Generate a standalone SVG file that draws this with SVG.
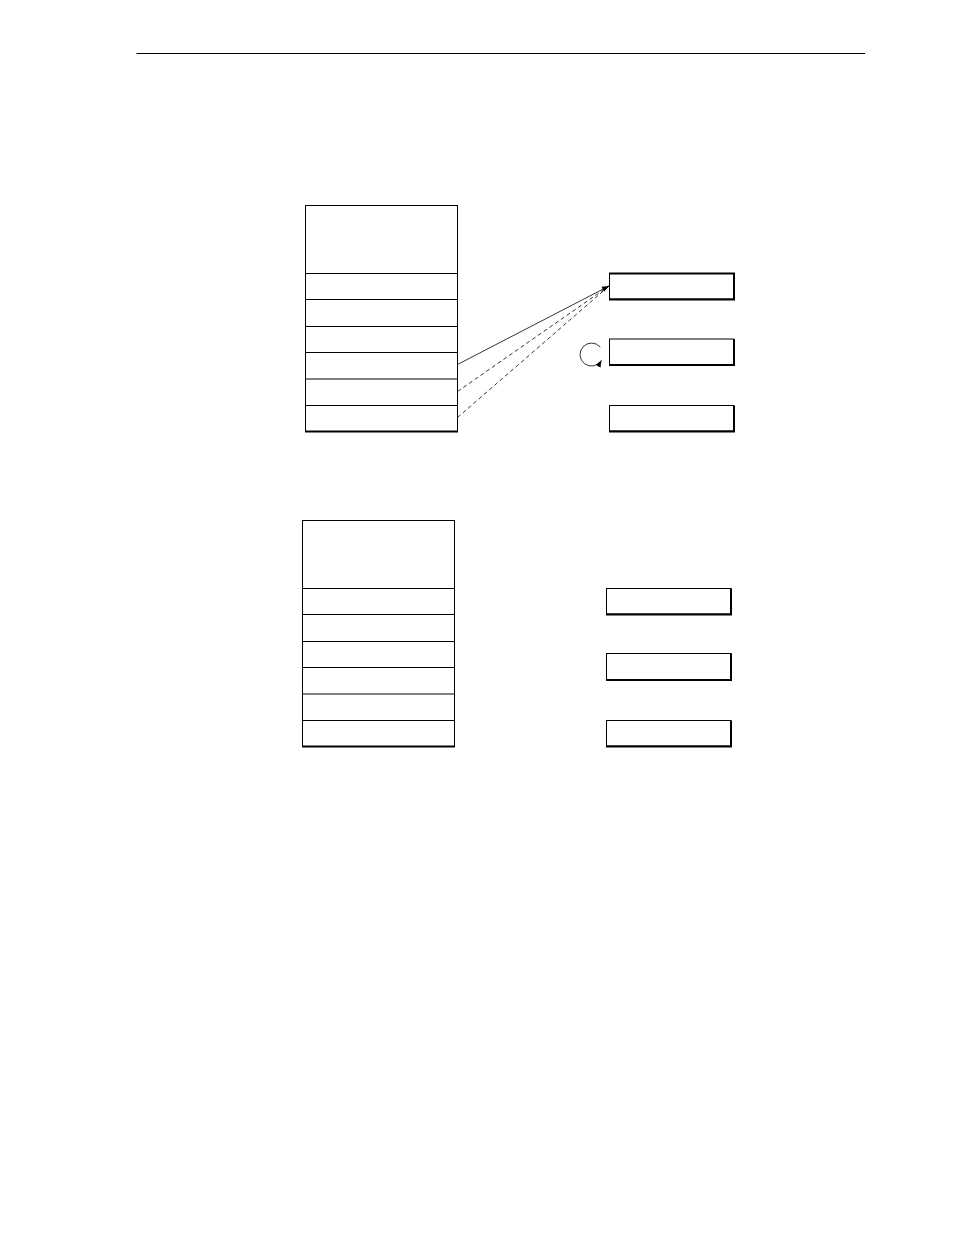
<svg xmlns="http://www.w3.org/2000/svg" width="954" height="1235" viewBox="0 0 954 1235">
<style>
.box{fill:#fff;stroke:#000;stroke-width:1}
.sh{stroke:#000;stroke-width:2;fill:none}
.row{stroke:#000;stroke-width:1;fill:none}
.conn{stroke:#000;stroke-width:0.8;fill:none}
.dash{stroke-dasharray:4 3}
</style>
<defs>
<marker id="ah" viewBox="0 0 10 10" refX="10" refY="5" markerWidth="7" markerHeight="7" markerUnits="userSpaceOnUse" orient="auto">
<path d="M0,1 L10,5 L0,9 Z" fill="#000"/>
</marker>
</defs>
<rect width="954" height="1235" fill="#fff"/>
<line x1="136.5" y1="53.5" x2="865" y2="53.5" stroke="#000" stroke-width="1"/>

<g id="stack1">
<rect class="box" x="305.5" y="205.5" width="152" height="226"/>
<line class="row" x1="305.5" y1="273.5" x2="457.5" y2="273.5"/>
<line class="row" x1="305.5" y1="299.5" x2="457.5" y2="299.5"/>
<line class="row" x1="305.5" y1="326.5" x2="457.5" y2="326.5"/>
<line class="row" x1="305.5" y1="352.5" x2="457.5" y2="352.5"/>
<line class="row" x1="305.5" y1="379" x2="457.5" y2="379"/>
<line class="row" x1="305.5" y1="405.5" x2="457.5" y2="405.5"/>
<line class="sh" x1="305" y1="431.5" x2="458" y2="431.5"/>
</g>
<g id="box1a">
<rect class="box" x="609.5" y="273.5" width="124" height="25.5"/>
<polyline class="sh" points="609,273.5 734,273.5 734,299.5 609,299.5"/>
</g>
<g id="box1b">
<rect class="box" x="609.5" y="339" width="124" height="25.5"/>
<polyline class="sh" points="734,339 734,365 609,365"/>
</g>
<g id="box1c">
<rect class="box" x="609.5" y="405.5" width="124" height="25.5"/>
<polyline class="sh" points="734,405.5 734,431.5 609,431.5"/>
</g>

<g id="stack2">
<rect class="box" x="302.5" y="520.5" width="152" height="226"/>
<line class="row" x1="302.5" y1="588.5" x2="454.5" y2="588.5"/>
<line class="row" x1="302.5" y1="614.5" x2="454.5" y2="614.5"/>
<line class="row" x1="302.5" y1="641.5" x2="454.5" y2="641.5"/>
<line class="row" x1="302.5" y1="667.5" x2="454.5" y2="667.5"/>
<line class="row" x1="302.5" y1="694" x2="454.5" y2="694"/>
<line class="row" x1="302.5" y1="720.5" x2="454.5" y2="720.5"/>
<line class="sh" x1="302" y1="746.5" x2="455" y2="746.5"/>
</g>
<g id="box2a">
<rect class="box" x="606.5" y="588.5" width="124.5" height="25.5"/>
<polyline class="sh" points="731,588.5 731,614.5 606,614.5"/>
</g>
<g id="box2b">
<rect class="box" x="606.5" y="653.5" width="124.5" height="26"/>
<polyline class="sh" points="731,653.5 731,680 606,680"/>
</g>
<g id="box2c">
<rect class="box" x="606.5" y="720.5" width="124.5" height="25.5"/>
<polyline class="sh" points="731,720.5 731,746.5 606,746.5"/>
</g>

<g id="connectors">
<line class="conn" x1="457.5" y1="364.5" x2="609" y2="286" marker-end="url(#ah)"/>
<line class="conn dash" x1="457.5" y1="391.5" x2="609" y2="286"/>
<line class="conn dash" x1="457.5" y1="417.5" x2="609" y2="286"/>
<path class="conn" d="M600.3,347.1 A11.5,11.5 0 1 0 601.5,360.3" marker-end="url(#ah)"/>
</g>
</svg>
